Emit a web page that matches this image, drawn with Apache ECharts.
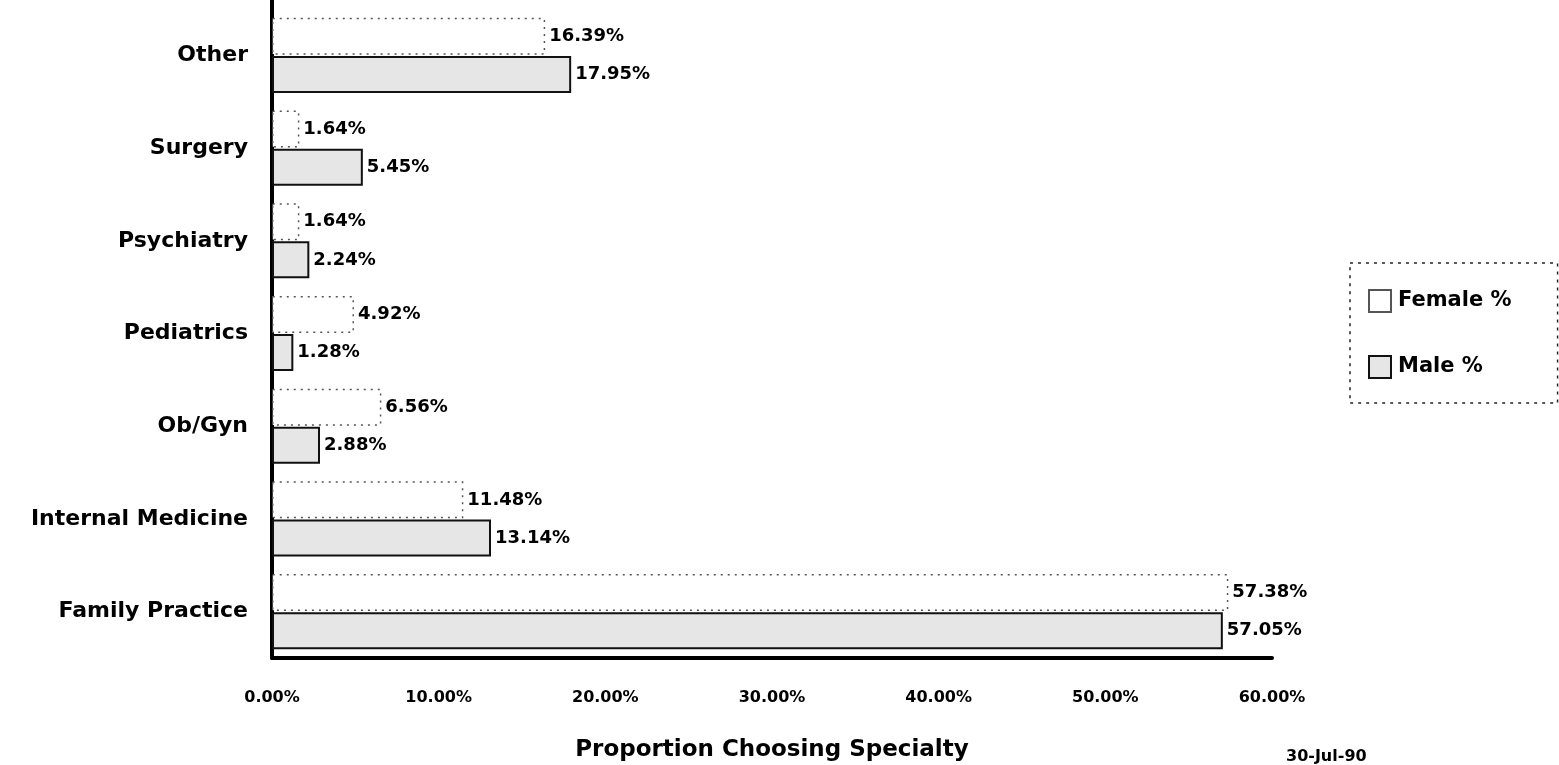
<!DOCTYPE html>
<html>
<head>
<meta charset="utf-8">
<title>Proportion Choosing Specialty</title>
<script src="https://cdn.jsdelivr.net/npm/echarts@6/dist/echarts.min.js"></script>
<style>
  html, body { margin: 0; padding: 0; background: #fff; }
  #chart { width: 1559px; height: 765px; }
</style>
</head>
<body>
<div id="chart"></div>
<script>
// Specialty choice by sex, bottom-to-top order on the category axis
const categories = ['Family Practice', 'Internal Medicine', 'Ob/Gyn', 'Pediatrics', 'Psychiatry', 'Surgery', 'Other'];
const femalePct = [57.38, 11.48, 6.56, 4.92, 1.64, 1.64, 16.39];
const malePct = [57.05, 13.14, 2.88, 1.28, 2.24, 5.45, 17.95];
const xTicks = [0, 10, 20, 30, 40, 50, 60];
const seriesNames = ['Female %', 'Male %'];
const dateStamp = '30-Jul-90';

const FONT = '"DejaVu Sans", "Liberation Sans", Arial, sans-serif';
const pct = v => Number(v).toFixed(2) + '%';

const GRID = { left: 272, right: 287, top: 9, bottom: 107 };

const labelStyle = {
  show: true,
  position: 'right',
  distance: 4,
  color: '#000',
  fontFamily: FONT,
  fontWeight: 'bold',
  fontSize: 18,
  formatter: p => pct(p.value)
};

const chart = echarts.init(document.getElementById('chart'), null, { renderer: 'canvas' });

chart.setOption({
  animation: false,
  backgroundColor: '#fff',
  grid: Object.assign({ containLabel: false, outerBoundsMode: 'none' }, GRID),
  legend: {
    data: seriesNames,
    orient: 'vertical',
    left: 1350,
    top: 263,
    padding: [26, 46, 24, 18],
    itemWidth: 22,
    itemHeight: 22,
    itemGap: 42,
    icon: 'rect',
    borderColor: '#222',
    borderWidth: 1.5,
    borderType: [3, 5],
    textStyle: { fontFamily: FONT, fontWeight: 'bold', fontSize: 21, color: '#000', padding: [0, 0, 0, 2] }
  },
  xAxis: {
    type: 'value',
    min: xTicks[0],
    max: xTicks[xTicks.length - 1],
    interval: xTicks[1] - xTicks[0],
    name: 'Proportion Choosing Specialty',
    nameLocation: 'middle',
    nameGap: 81,
    nameTextStyle: { fontFamily: FONT, fontWeight: 'bold', fontSize: 23, color: '#000' },
    axisLine: { show: true, lineStyle: { color: '#000', width: 4 } },
    axisTick: { show: false },
    splitLine: { show: false },
    axisLabel: {
      margin: 32,
      color: '#000',
      fontFamily: FONT,
      fontWeight: 'bold',
      fontSize: 16,
      formatter: v => pct(v)
    }
  },
  yAxis: {
    type: 'category',
    data: categories,
    axisLine: { show: true, lineStyle: { color: '#000', width: 4 } },
    axisTick: { show: false },
    axisLabel: {
      margin: 24,
      color: '#000',
      fontFamily: FONT,
      fontWeight: 'bold',
      fontSize: 22
    }
  },
  series: [
    {
      name: seriesNames[0],
      type: 'bar',
      data: femalePct,
      barWidth: 37,
      barGap: '3%',
      itemStyle: {
        color: '#fff',
        borderColor: '#555',
        borderWidth: 1.5,
        borderType: [2, 5]
      },
      label: labelStyle
    },
    {
      name: seriesNames[1],
      type: 'bar',
      data: malePct,
      barWidth: 37,
      itemStyle: {
        color: '#e6e6e6',
        borderColor: '#111',
        borderWidth: 2
      },
      label: labelStyle
    }
  ],
  graphic: [
    {
      // vertical axis rule runs up to the top edge of the page
      type: 'line',
      shape: { x1: GRID.left, y1: 0, x2: GRID.left, y2: GRID.top },
      style: { stroke: '#000', lineWidth: 4 }
    },
    {
      type: 'text',
      left: 1286,
      top: 749,
      style: {
        text: dateStamp,
        fontFamily: FONT,
        fontWeight: 'bold',
        fontSize: 16,
        fill: '#000'
      }
    }
  ]
});
</script>
</body>
</html>
